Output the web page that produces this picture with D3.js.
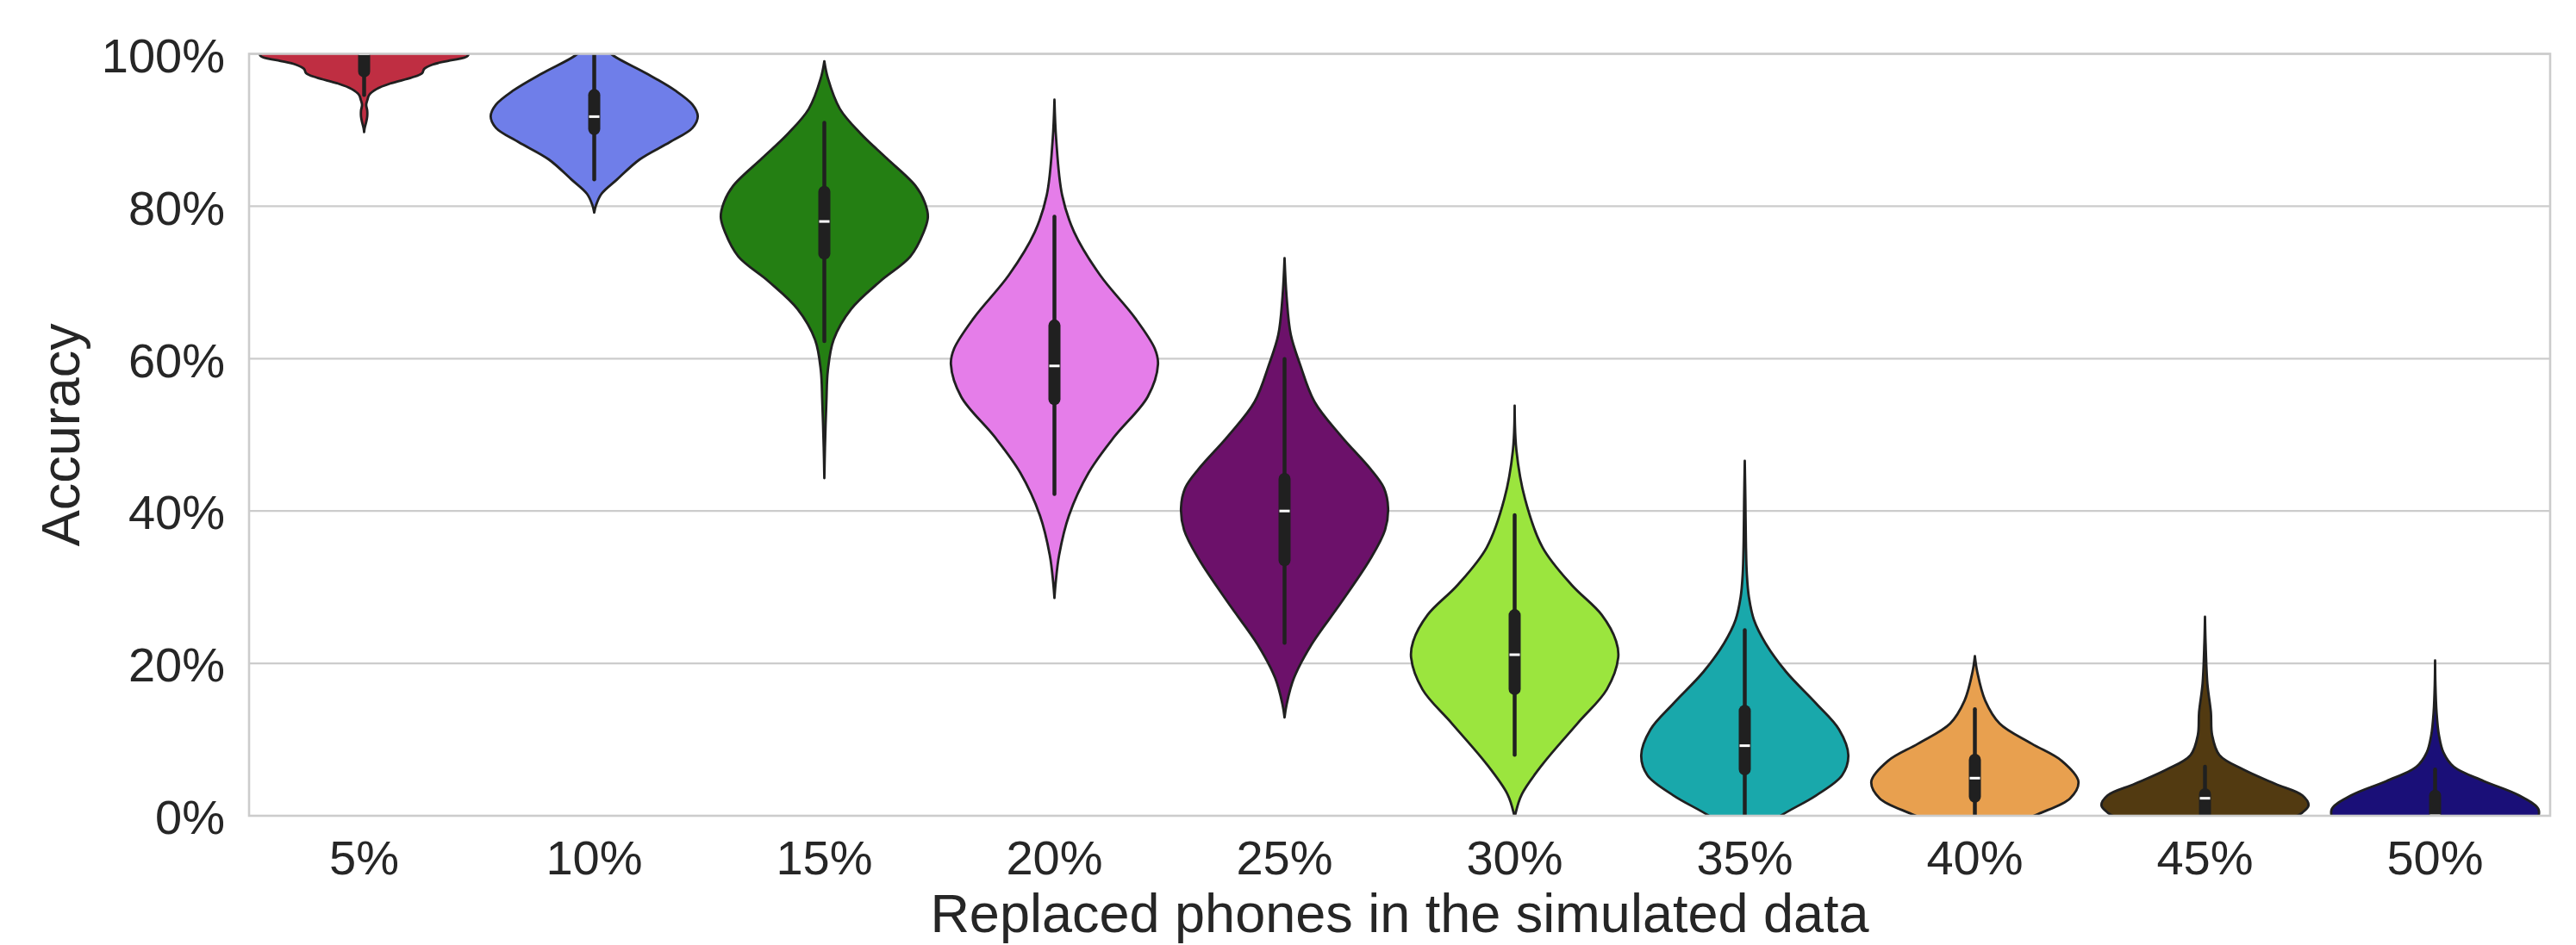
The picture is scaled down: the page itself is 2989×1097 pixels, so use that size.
<!DOCTYPE html>
<html>
<head>
<meta charset="utf-8">
<script src="https://cdn.jsdelivr.net/npm/d3@7"></script>
<style>
body { margin: 0; background: #fff; }
svg { display: block; font-family: 'Liberation Sans', Arial, sans-serif; }
</style>
</head>
<body>
<svg id="chart"></svg>
<script>
'use strict';

var categories = ['5%', '10%', '15%', '20%', '25%', '30%', '35%', '40%', '45%', '50%'];
var yTicks = [0, 20, 40, 60, 80, 100];
var palette = ['#bf2e42', '#6f7ee9', '#247f13', '#e57de9', '#6c116a',
               '#9be53e', '#19a8ab', '#e8a04f', '#523a11', '#1a0f78'];

// box summary per group (accuracy in %)
var medians   = [100, 91.76, 78.0, 59.04, 40.0, 21.14, 9.2, 4.94, 2.3, 0];
var q3        = [101, 95.38, 82.68, 65.14, 45.0, 27.12, 14.55, 8.14, 3.62, 3.43];
var q1        = [96.9, 89.35, 72.99, 53.89, 32.75, 15.84, 5.31, 1.73, -1, -1];
var whiskHigh = [100, 100, 90.95, 78.64, 59.96, 39.47, 24.35, 13.98, 6.44, 6.07];
var whiskLow  = [94.6, 83.51, 62.3, 42.22, 22.7, 7.99, 0, 0, 0, 0];

// violin outlines: [accuracy %, relative half width]
var density5 = [[89.73, 0], [90.3, 0.006], [91.05, 0.02], [91.8, 0.03], [92.56, 0.03], [93.31, 0.02],
  [93.87, 0.03], [94.63, 0.05], [95.38, 0.12], [96.14, 0.26], [96.89, 0.46], [97.46, 0.56],
  [98.02, 0.58], [98.59, 0.66], [99.15, 0.83], [99.72, 1.0], [101, 1.0], [102, 0.6], [104, 0]];
var density10 = [[79.17, 0], [80.12, 0.017], [81.63, 0.07], [83.51, 0.22], [86.15, 0.44], [88.41, 0.73],
  [90.3, 0.95], [91.8, 1.0], [93.31, 0.95], [95.2, 0.78], [97.46, 0.5], [99.72, 0.19], [101, 0.08], [102.5, 0]];
var density15 = [[44.32, 0], [48.35, 0.006], [54.41, 0.02], [58.45, 0.034], [62.49, 0.09], [66.52, 0.26],
  [70.16, 0.54], [73.39, 0.83], [76.62, 0.96], [78.6, 1.0], [80.5, 0.97], [82.68, 0.88], [86.31, 0.6],
  [89.54, 0.35], [92.78, 0.15], [96.81, 0.034], [99.03, 0]];
var density20 = [[28.58, 0], [30.75, 0.013], [34.21, 0.045], [39.4, 0.14], [45.02, 0.33], [49.78, 0.58],
  [54.98, 0.9], [59.26, 1.0], [61.28, 0.97], [65.31, 0.78], [70.97, 0.44],
  [76.62, 0.19], [81.47, 0.074], [88.74, 0.017], [93.98, 0]];
var density25 = [[12.9, 0], [14.62, 0.02], [18.05, 0.09], [22.47, 0.26], [27.86, 0.54], [33.74, 0.83],
  [37.5, 0.97], [40.36, 1.0], [43.0, 0.96], [45.51, 0.83], [49.92, 0.54], [54.32, 0.29], [59.23, 0.15],
  [63.16, 0.06], [68.06, 0.02], [73.2, 0]];
var density30 = [[-0.5, 0], [0.4, 0.01], [2.85, 0.07], [6.77, 0.27], [12.17, 0.61], [16.58, 0.89],
  [20.75, 1.0], [22.9, 0.98], [26.38, 0.84], [30.3, 0.55], [35.21, 0.27], [41.58, 0.1], [47.96, 0.017], [53.84, 0]];
var density35 = [[-3, 0], [-1.5, 0.2], [0.03, 0.35], [2.68, 0.69], [5.31, 0.94], [7.95, 1.0], [11.34, 0.91],
  [14.73, 0.69], [18.88, 0.4], [22.65, 0.2], [25.66, 0.09], [28.68, 0.04], [31.69, 0.02], [35.84, 0.011],
  [41.49, 0.006], [46.58, 0]];
var density40 = [[-3, 0], [-1.5, 0.3], [0.23, 0.61], [2.3, 0.92], [4.49, 1.0], [7.2, 0.84], [9.46, 0.55],
  [12.1, 0.24], [15.11, 0.1], [18.88, 0.023], [20.95, 0]];
var density45 = [[-2, 0], [-0.5, 0.8], [0.42, 0.94], [1.36, 1.0], [2.68, 0.94], [4.18, 0.68], [6.07, 0.37],
  [7.95, 0.14], [10.59, 0.069], [13.6, 0.057], [17.37, 0.023], [22.65, 0.006], [26.12, 0]];
var density50 = [[-3, 0], [-1, 0.95], [0.79, 1.0], [2.68, 0.81], [4.56, 0.47], [6.44, 0.18], [8.33, 0.08],
  [10.59, 0.037], [13.6, 0.014], [17.37, 0.003], [20.39, 0]];

var densities = [density5, density10, density15, density20, density25,
                 density30, density35, density40, density45, density50];

var width = 2989,
    height = 1097,
    plotLeft = 289, plotRight = 2959, plotTop = 62.5, plotBottom = 947;
var ink = '#202020', textColor = '#262626', gridColor = '#cccccc';

var x = d3.scaleBand().domain(categories).range([plotLeft, plotRight]);
var y = d3.scaleLinear().domain([0, 100]).range([plotBottom, plotTop]);
var halfW = d3.scaleLinear().domain([0, 1]).range([0, x.bandwidth() * 0.45]);

var svg = d3.select('#chart').attr('width', width).attr('height', height);
svg.append('rect').attr('width', width).attr('height', height).attr('fill', '#fff');

svg.append('clipPath').attr('id', 'plot-clip')
  .append('rect')
    .attr('x', plotLeft).attr('y', plotTop)
    .attr('width', plotRight - plotLeft).attr('height', plotBottom - plotTop);

// horizontal grid
svg.append('g').selectAll('line')
    .data(yTicks)
  .enter().append('line')
    .attr('x1', plotLeft).attr('x2', plotRight)
    .attr('y1', function(d) { return y(d); })
    .attr('y2', function(d) { return y(d); })
    .attr('stroke', gridColor)
    .attr('stroke-width', 2.2);

var plot = svg.append('g').attr('clip-path', 'url(#plot-clip)');

categories.forEach(function(cat, i) {
  var cx = x(cat) + x.bandwidth() / 2;
  var area = d3.area()
    .curve(d3.curveCatmullRom.alpha(0.5))
    .y(function(d) { return y(d[0]); })
    .x0(function(d) { return cx - halfW(d[1]); })
    .x1(function(d) { return cx + halfW(d[1]); });

  var g = plot.append('g');
  g.append('path')
    .datum(densities[i])
    .attr('d', area)
    .attr('fill', palette[i])
    .attr('stroke', ink)
    .attr('stroke-width', 2.8)
    .attr('stroke-linejoin', 'round');

  g.append('line')
    .attr('x1', cx).attr('x2', cx)
    .attr('y1', y(whiskLow[i])).attr('y2', y(whiskHigh[i]))
    .attr('stroke', ink)
    .attr('stroke-width', 4.5)
    .attr('stroke-linecap', 'round');

  g.append('rect')
    .attr('x', cx - 7).attr('width', 14)
    .attr('y', y(q3[i])).attr('height', y(q1[i]) - y(q3[i]))
    .attr('rx', 7)
    .attr('fill', ink);

  g.append('rect')
    .attr('x', cx - 6).attr('width', 12)
    .attr('y', y(medians[i]) - 1.5).attr('height', 3)
    .attr('fill', '#fff');
});

// frame on top of the violins
svg.append('rect')
  .attr('x', plotLeft).attr('y', plotTop)
  .attr('width', plotRight - plotLeft).attr('height', plotBottom - plotTop)
  .attr('fill', 'none')
  .attr('stroke', gridColor)
  .attr('stroke-width', 2.6);

var yAxis = svg.append('g')
  .attr('transform', 'translate(' + plotLeft + ',0)')
  .call(d3.axisLeft(y).tickValues(yTicks).tickSize(0).tickPadding(28)
    .tickFormat(function(d) { return d + '%'; }));

var xAxis = svg.append('g')
  .attr('transform', 'translate(0,' + plotBottom + ')')
  .call(d3.axisBottom(x).tickSize(0).tickPadding(28));

[yAxis, xAxis].forEach(function(ax) {
  ax.select('.domain').remove();
  ax.selectAll('text')
    .attr('fill', textColor)
    .style('font-size', '56px')
    .style('font-family', "'Liberation Sans', Arial, sans-serif");
});
yAxis.selectAll('text').attr('dy', '0.37em');

svg.append('text')
  .attr('transform', 'translate(92,' + ((plotTop + plotBottom) / 2) + ') rotate(-90)')
  .attr('text-anchor', 'middle')
  .attr('fill', textColor)
  .style('font-size', '63px')
  .text('Accuracy');

svg.append('text')
  .attr('x', (plotLeft + plotRight) / 2)
  .attr('y', 1082)
  .attr('text-anchor', 'middle')
  .attr('fill', textColor)
  .style('font-size', '63px')
  .text('Replaced phones in the simulated data');
</script>
</body>
</html>
